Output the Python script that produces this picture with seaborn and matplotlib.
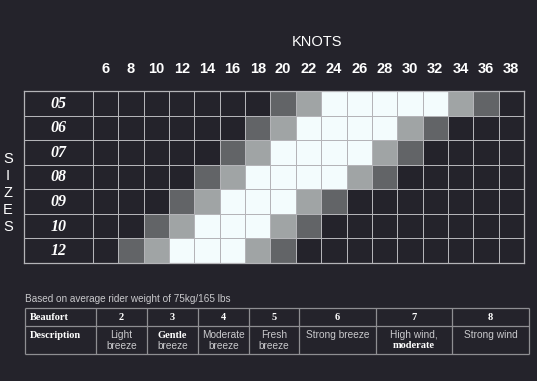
import numpy as np
import pandas as pd
import seaborn as sns
import matplotlib
matplotlib.use("Agg")
import matplotlib.pyplot as plt
from matplotlib.colors import ListedColormap

# ---- data ----
knots = [6, 8, 10, 12, 14, 16, 18, 20, 22, 24, 26, 28, 30, 32, 34, 36, 38]
sizes = ["05", "06", "07", "08", "09", "10", "12"]
# 0 = not suitable, 1 = marginal, 2 = ok, 3 = ideal
row_05 = [0, 0, 0, 0, 0, 0, 0, 1, 2, 3, 3, 3, 3, 3, 2, 1, 0]
row_06 = [0, 0, 0, 0, 0, 0, 1, 2, 3, 3, 3, 3, 2, 1, 0, 0, 0]
row_07 = [0, 0, 0, 0, 0, 1, 2, 3, 3, 3, 3, 2, 1, 0, 0, 0, 0]
row_08 = [0, 0, 0, 0, 1, 2, 3, 3, 3, 3, 2, 1, 0, 0, 0, 0, 0]
row_09 = [0, 0, 0, 1, 2, 3, 3, 3, 2, 1, 0, 0, 0, 0, 0, 0, 0]
row_10 = [0, 0, 1, 2, 3, 3, 3, 2, 1, 0, 0, 0, 0, 0, 0, 0, 0]
row_12 = [0, 1, 2, 3, 3, 3, 2, 1, 0, 0, 0, 0, 0, 0, 0, 0, 0]

beaufort = ["2", "3", "4", "5", "6", "7", "8"]
descriptions = [("Light\nbreeze", None), ("breeze", "Gentle"), ("Moderate\nbreeze", None),
                ("Fresh\nbreeze", None), ("Strong breeze", None), ("High wind,", "moderate"),
                ("Strong wind", None)]
note = "Based on average rider weight of 75kg/165 lbs"

# ---- style ----
BG = "#24232b"
GRID = "#b4b4b8"
TXT = "#ffffff"
SUB = "#c9c9cc"
TLINE = "#8e8e92"

W, H = 537, 381
fig = plt.figure(figsize=(W / 100, H / 100), dpi=100, facecolor=BG)

df = pd.DataFrame([row_05, row_06, row_07, row_08, row_09, row_10, row_12],
                  index=sizes, columns=knots)

cmap = ListedColormap([BG, "#626467", "#a0a4a5", "#f3fcfd"])

x0, x1, y0, y1 = 24, 524, 91, 263
ax = fig.add_axes([x0 / W, 1 - y1 / H, (x1 - x0) / W, (y1 - y0) / H])
ax.set_facecolor(BG)
sns.heatmap(df, ax=ax, cmap=cmap, vmin=-0.5, vmax=3.5, cbar=False,
            linewidths=0.55, linecolor=GRID, yticklabels=False)

ncol = len(knots)
cw = (x1 - x0 - 69) / ncol
lab_w = 69 / cw
ax.set_xlim(-lab_w, ncol)
ax.set_ylim(len(sizes), 0)

# label column grid
ax.hlines(np.arange(1, len(sizes)), -lab_w, 0, color=GRID, lw=0.75)
ax.vlines([0], 0, len(sizes), color=GRID, lw=0.75)
for s in ax.spines.values():
    s.set_visible(True)
    s.set_color(GRID)
    s.set_linewidth(0.9)

for i, s in enumerate(sizes):
    ax.text(-lab_w / 2, i + 0.52, s, ha="center", va="center", color=TXT,
            fontsize=11.5, fontweight="bold", fontstyle="italic",
            family="Liberation Serif")

ax.xaxis.tick_top()
ax.set_xticks(np.arange(ncol) + 0.5)
ax.set_xticklabels([str(k) for k in knots], family="Liberation Sans",
                   fontsize=10.5, color=TXT, fontweight="bold")
ax.tick_params(axis="x", length=0, pad=10.5)
ax.set_xlabel("")
ax.set_ylabel("")

# titles
fig.text(317 / W, 1 - 42 / H, "KNOTS", ha="center", va="center", color=TXT,
         fontsize=10.5, family="Liberation Sans")
for j, ch in enumerate("SIZES"):
    fig.text(8 / W, 1 - (159 + j * 17) / H, ch, ha="center", va="center",
             color=TXT, fontsize=10.5, family="Liberation Sans")

# ---- table ----
tx = fig.add_axes([0, 0, 1, 1], facecolor="none")
tx.set_xlim(0, W)
tx.set_ylim(H, 0)
tx.axis("off")

tx.text(25, 299, note, ha="left", va="center", color=SUB, fontsize=7.2,
        family="Liberation Sans")

cols = [25, 96, 147, 198, 249, 299, 376, 452, 529]
rows = [308, 326, 354]
tx.hlines(rows, cols[0], cols[-1], color=TLINE, lw=0.9)
tx.vlines(cols, rows[0], rows[-1], color=TLINE, lw=0.9)

tx.text(30, 318, "Beaufort", ha="left", va="center", color=TXT, fontsize=7.5,
        fontweight="bold", family="Liberation Serif")
tx.text(30, 335, "Description", ha="left", va="center", color=TXT, fontsize=7.5,
        fontweight="bold", family="Liberation Serif")
for k, b in enumerate(beaufort):
    cx = (cols[k + 1] + cols[k + 2]) / 2
    tx.text(cx, 318, b, ha="center", va="center", color=TXT, fontsize=7.5,
            fontweight="bold", family="Liberation Serif")
    main, bold = descriptions[k]
    if bold is None:
        lines = main.split("\n")
        for li, t in enumerate(lines):
            tx.text(cx, 335 + li * 11, t, ha="center", va="center", color=SUB,
                    fontsize=7.3, family="Liberation Sans")
    elif bold == "Gentle":
        tx.text(cx, 335, bold, ha="center", va="center", color=TXT, fontsize=7.5,
                fontweight="bold", family="Liberation Serif")
        tx.text(cx, 346, main, ha="center", va="center", color=SUB, fontsize=7.3,
                family="Liberation Sans")
    else:
        tx.text(cx, 335, main, ha="center", va="center", color=SUB, fontsize=7.3,
                family="Liberation Sans")
        tx.text(cx, 346, bold, ha="center", va="center", color=TXT, fontsize=7.5,
                fontweight="bold", family="Liberation Serif")

fig.savefig("out.png", dpi=100, facecolor=BG)
